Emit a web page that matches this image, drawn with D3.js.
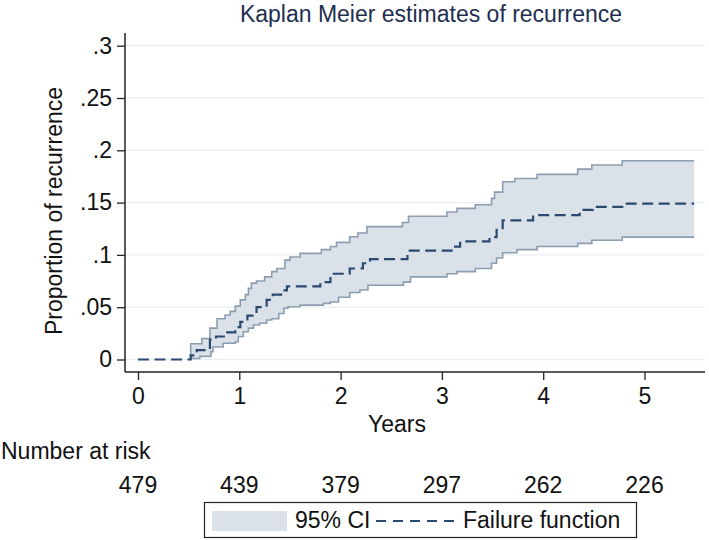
<!DOCTYPE html>
<html><head><meta charset="utf-8">
<script src="https://cdn.jsdelivr.net/npm/d3@7"></script>
<style>
html,body{margin:0;padding:0;background:#fff;}
svg{display:block;font-family:"Liberation Sans",Arial,Helvetica,sans-serif;}
</style></head>
<body>
<svg id="chart" width="709" height="540"></svg>
<script>
// ---- data ----
const kmTime  = [0,0.52,0.58,0.71,0.77,0.88,0.96,1.01,1.08,1.17,1.27,1.33,1.43,1.47,1.80,1.90,2.09,2.22,2.29,2.66,3.11,3.18,3.47,3.54,3.60,3.90,4.36,4.49,4.78,5.49];
const kmValue = [0,0.004,0.009,0.019,0.022,0.026,0.031,0.036,0.042,0.050,0.057,0.062,0.066,0.070,0.074,0.082,0.087,0.092,0.096,0.104,0.108,0.113,0.117,0.124,0.133,0.138,0.143,0.146,0.149,0.149];

const upTime  = [0.52,0.52,0.63,0.71,0.78,0.86,0.91,0.96,1.01,1.06,1.09,1.12,1.17,1.25,1.32,1.37,1.45,1.50,1.60,1.81,1.90,1.96,2.09,2.17,2.26,2.61,2.67,3.05,3.15,3.33,3.49,3.52,3.60,3.72,3.94,4.34,4.48,4.78,5.49];
const upValue = [0,0.015,0.020,0.030,0.039,0.0425,0.046,0.051,0.057,0.062,0.068,0.073,0.075,0.079,0.084,0.087,0.095,0.098,0.1015,0.105,0.108,0.112,0.1174,0.121,0.127,0.131,0.137,0.141,0.1445,0.148,0.154,0.160,0.170,0.173,0.177,0.182,0.186,0.190,0.190];

const loTime  = [0.52,0.61,0.72,0.74,0.84,0.96,0.99,1.04,1.09,1.14,1.20,1.27,1.32,1.39,1.44,1.48,1.60,1.83,1.90,1.98,2.09,2.19,2.27,2.62,2.69,3.05,3.15,3.33,3.49,3.54,3.60,3.74,3.94,4.34,4.48,4.78,5.49];
const loValue = [0.001,0.003,0.0075,0.012,0.0155,0.017,0.022,0.0266,0.030,0.033,0.0346,0.0378,0.039,0.044,0.049,0.0505,0.052,0.0537,0.055,0.0595,0.064,0.0665,0.071,0.074,0.079,0.082,0.084,0.087,0.092,0.097,0.102,0.105,0.108,0.111,0.114,0.117,0.117];

const xTicks = [0,1,2,3,4,5];
const yTicks = [0,0.05,0.1,0.15,0.2,0.25,0.3];
const atRisk = [479,439,379,297,262,226];

const titleText = "Kaplan Meier estimates of recurrence";
const xLabel = "Years";
const yLabel = "Proportion of recurrence";
const riskLabel = "Number at risk";
const legendLabels = ["95% CI","Failure function"];

// ---- layout ----
const svg = d3.select("#chart");
const FS = 23;
const plotL = 125, plotR = 705, plotT = 33, plotB = 372;
const x = d3.scaleLinear().domain([0,5]).range([138,644.5]);
const y = d3.scaleLinear().domain([0,0.3]).range([359.5,45.7]);

const ciFill = "#dbe1e9", ciLine = "#8d9db0", kmColor = "#2a4a70";

// grid
svg.append("g").selectAll("line").data(yTicks).join("line")
  .attr("x1",plotL).attr("x2",plotR)
  .attr("y1",d=>y(d)).attr("y2",d=>y(d))
  .attr("stroke","#e9eef2").attr("stroke-width",1.3);

// CI area (merge grids)
const stepVal = (ts,vs,t)=>{ let v=null; for(let i=0;i<ts.length;i++){ if(ts[i]<=t) v=vs[i]; else break; } return v; };
const allT = Array.from(new Set(upTime.concat(loTime))).sort((a,b)=>a-b);
const areaData = allT.map(t=>({t, up:stepVal(upTime,upValue,t), lo:stepVal(loTime,loValue,t)}))
  .filter(d=>d.up!==null && d.lo!==null);
svg.append("path").datum(areaData)
  .attr("fill",ciFill)
  .attr("d", d3.area().curve(d3.curveStepAfter).x(d=>x(d.t)).y0(d=>y(d.lo)).y1(d=>y(d.up)));

const stepLine = d3.line().curve(d3.curveStepAfter).x(d=>x(d[0])).y(d=>y(d[1]));
svg.append("path").datum(upTime.map((t,i)=>[t,upValue[i]]))
  .attr("fill","none").attr("stroke",ciLine).attr("stroke-width",1.6).attr("d",stepLine);
svg.append("path").datum(loTime.map((t,i)=>[t,loValue[i]]))
  .attr("fill","none").attr("stroke",ciLine).attr("stroke-width",1.6).attr("d",stepLine);

// KM failure function
svg.append("path").datum(kmTime.map((t,i)=>[t,kmValue[i]]))
  .attr("fill","none").attr("stroke",kmColor).attr("stroke-width",2.2)
  .attr("stroke-dasharray","11,5.5").attr("d",stepLine);

// axes
const axisColor = "#222";
svg.append("line").attr("x1",plotL).attr("x2",plotL).attr("y1",plotT).attr("y2",plotB)
  .attr("stroke",axisColor).attr("stroke-width",1.5);
svg.append("line").attr("x1",plotL).attr("x2",plotR).attr("y1",plotB).attr("y2",plotB)
  .attr("stroke",axisColor).attr("stroke-width",1.5);

const fmtY = d => d===0 ? "0" : d3.format(".2~f")(d).replace(/^0/,"");
const yAxis = svg.append("g").attr("transform",`translate(${plotL},0)`)
  .call(d3.axisLeft(y).tickValues(yTicks).tickSize(8).tickPadding(5).tickFormat(fmtY));
yAxis.select(".domain").remove();
yAxis.selectAll("line").attr("stroke",axisColor).attr("stroke-width",1.3);
yAxis.selectAll("text").attr("font-size",FS).attr("fill","#111").attr("font-family",null);

const xAxis = svg.append("g").attr("transform",`translate(0,${plotB})`)
  .call(d3.axisBottom(x).tickValues(xTicks).tickSize(8).tickPadding(8).tickFormat(d3.format("d")));
xAxis.select(".domain").remove();
xAxis.selectAll("line").attr("stroke",axisColor).attr("stroke-width",1.3);
xAxis.selectAll("text").attr("font-size",FS).attr("fill","#111").attr("font-family",null);

// titles
svg.append("text").attr("x",431).attr("y",22).attr("text-anchor","middle")
  .attr("font-size",FS).attr("fill","#1e2f4f").text(titleText);
svg.append("text").attr("x",397).attr("y",432).attr("text-anchor","middle")
  .attr("font-size",FS).attr("fill","#111").text(xLabel);
svg.append("text").attr("transform","translate(62,211) rotate(-90)").attr("text-anchor","middle")
  .attr("font-size",FS).attr("fill","#111").text(yLabel);

// number at risk
svg.append("text").attr("x",1).attr("y",459).attr("font-size",FS).attr("fill","#111").text(riskLabel);
svg.append("g").selectAll("text").data(atRisk).join("text")
  .attr("x",(d,i)=>x(xTicks[i])).attr("y",493).attr("text-anchor","middle")
  .attr("font-size",FS).attr("fill","#111").text(d=>d);

// legend
const lg = svg.append("g");
lg.append("rect").attr("x",204.5).attr("y",502.5).attr("width",432).attr("height",35)
  .attr("fill","#fff").attr("stroke","#222").attr("stroke-width",1.2);
lg.append("rect").attr("x",212).attr("y",511).attr("width",75).attr("height",20).attr("fill",ciFill);
lg.append("text").attr("x",295).attr("y",528).attr("font-size",FS).attr("fill","#111").text(legendLabels[0]);
lg.append("line").attr("x1",376).attr("x2",456).attr("y1",521).attr("y2",521)
  .attr("stroke",kmColor).attr("stroke-width",1.8).attr("stroke-dasharray","10,7");
lg.append("text").attr("x",463).attr("y",528).attr("font-size",FS).attr("fill","#111").text(legendLabels[1]);
</script>
</body></html>
